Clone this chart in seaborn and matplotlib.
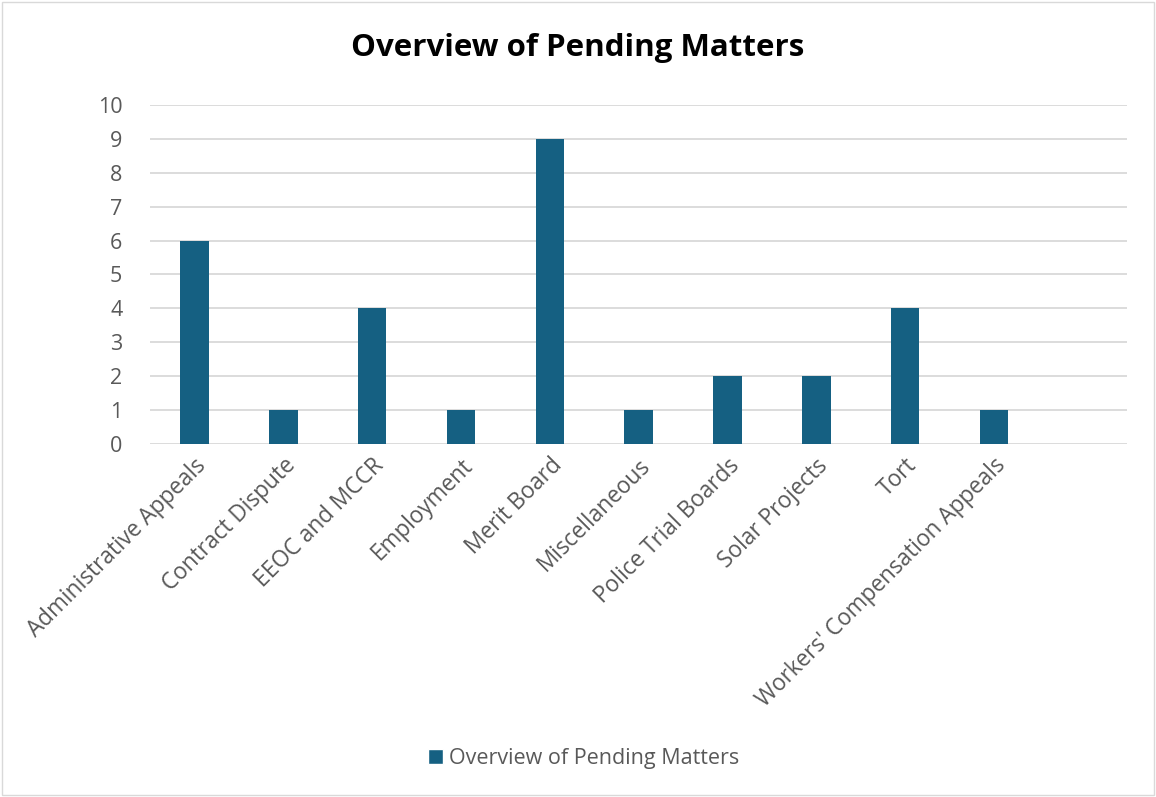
import matplotlib
matplotlib.use("Agg")
import matplotlib.pyplot as plt
import seaborn as sns
import pandas as pd
from matplotlib.patches import Patch, Rectangle

categories = ["Administrative Appeals", "Contract Dispute", "EEOC and MCCR", "Employment",
              "Merit Board", "Miscellaneous", "Police Trial Boards", "Solar Projects", "Tort",
              "Workers' Compensation Appeals"]
values = [6, 1, 4, 1, 9, 1, 2, 2, 4, 1]
series_name = "Overview of Pending Matters"
yticks = list(range(0, 11))

sns.set_theme(style="white")
plt.rcParams['font.family'] = ['Open Sans', 'DejaVu Sans']

BAR = "#156082"
TXT = "#595959"
GRID = "#d9d9d9"

df = pd.DataFrame({"category": categories, "value": values})

fig = plt.figure(figsize=(11.56, 7.97), dpi=100)
ax = fig.add_axes([0.1298, 0.4429, 0.8453, 0.4254])

sns.barplot(data=df, x="category", y="value", order=categories, color=BAR,
            width=0.32, saturation=1, linewidth=0, ax=ax)

ax.set_xlim(-0.5, len(categories) + 0.5)
ax.set_ylim(0, 10)
ax.set_yticks(yticks)
ax.set_yticklabels([str(t) for t in yticks], fontsize=15.5, color=TXT)
ax.yaxis.grid(True, color=GRID, linewidth=1.3)
ax.set_axisbelow(True)
for s in ax.spines.values():
    s.set_visible(False)
ax.tick_params(axis='both', length=0)
ax.tick_params(axis='y', pad=20)
ax.set_xlabel("")
ax.set_ylabel("")
ax.set_xticks(range(len(categories)))
ax.set_xticklabels(categories, rotation=45, ha='right', rotation_mode='anchor',
                   fontsize=16.3, color=TXT)
ax.tick_params(axis='x', pad=7)

fig.suptitle("Overview of Pending Matters", x=0.5, y=0.958, fontsize=22.5,
             fontweight='bold', color='black')

fig.legend(handles=[Patch(facecolor=BAR, label=series_name)], loc='center',
           bbox_to_anchor=(0.505, 0.048), frameon=False, fontsize=15.5,
           labelcolor=TXT, handlelength=0.7, handleheight=0.7, handletextpad=0.3)

fig.patches.append(Rectangle((0.002, 0.002), 0.996, 0.996, transform=fig.transFigure,
                             fill=False, edgecolor=GRID, linewidth=1))

fig.savefig("out.png", dpi=100, facecolor='white')
